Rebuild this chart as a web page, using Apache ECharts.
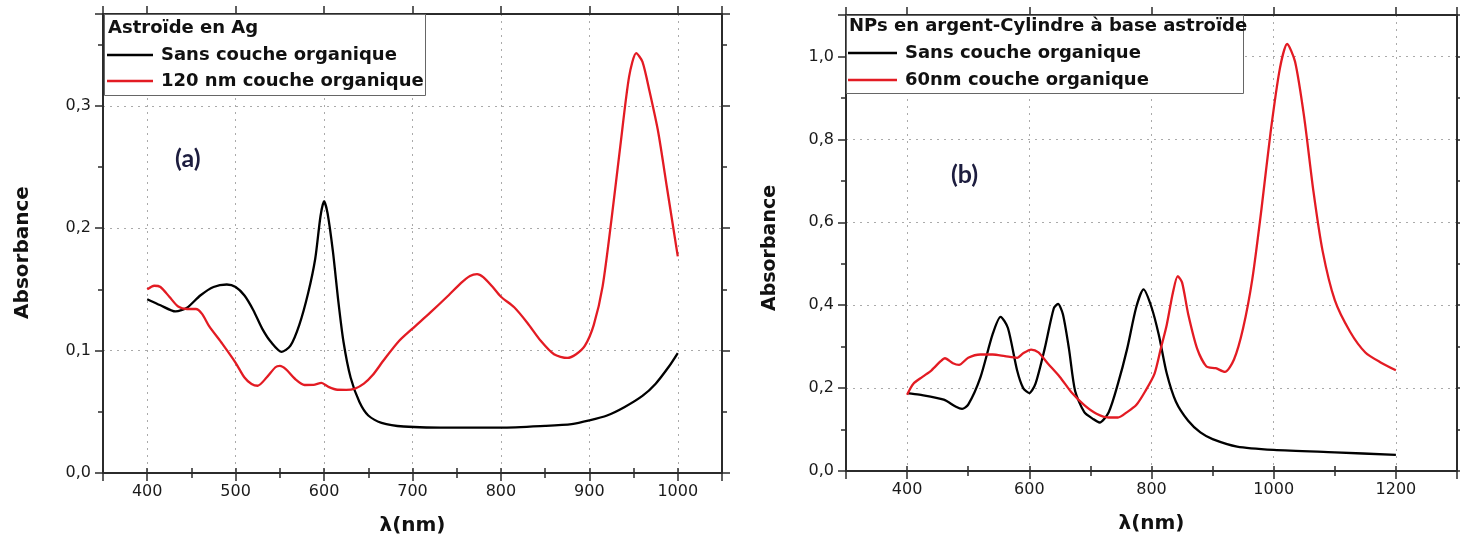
<!DOCTYPE html>
<html>
<head>
<meta charset="utf-8">
<script src="https://cdn.jsdelivr.net/npm/echarts@6/dist/echarts.min.js"></script>
<style>html,body{margin:0;padding:0;background:#fff}#c{width:1460px;height:548px}</style>
</head>
<body>
<div id="c"></div>
<script>
// ---------- Panel (a): Astroïde en Ag ----------
const aTitle = 'Astroïde en Ag';
const aNameBlack = 'Sans couche organique';
const aNameRed = '120 nm couche organique';
const aWaveBlack = [400,415,432,445,460,475,490,500,510,520,530,540,552,562,572,582,590,596,600,604,610,616,622,630,640,650,665,690,750,800,850,880,900,920,940,960,975,990,1000];
const aAbsBlack  = [0.142,0.137,0.132,0.135,0.145,0.152,0.154,0.152,0.145,0.133,0.118,0.107,0.099,0.104,0.121,0.147,0.175,0.210,0.222,0.212,0.181,0.141,0.107,0.078,0.058,0.047,0.041,0.038,0.037,0.037,0.0385,0.040,0.043,0.047,0.054,0.063,0.073,0.087,0.098];
const aWaveRed = [400,408,415,425,435,445,455,462,470,485,500,510,518,525,535,545,550,557,567,578,588,597,605,615,625,635,645,655,668,685,700,720,740,755,765,773,780,790,800,815,830,845,860,875,885,895,905,915,925,935,945,953,960,968,978,988,1000];
const aAbsRed  = [0.150,0.153,0.152,0.144,0.136,0.134,0.134,0.130,0.120,0.1055,0.090,0.078,0.0727,0.0713,0.078,0.0864,0.0875,0.0847,0.077,0.0719,0.072,0.0736,0.0704,0.068,0.0679,0.069,0.073,0.080,0.0927,0.108,0.118,0.131,0.1446,0.1554,0.161,0.1625,0.160,0.1525,0.144,0.1354,0.1226,0.108,0.097,0.094,0.097,0.104,0.121,0.1525,0.207,0.267,0.324,0.343,0.336,0.312,0.278,0.232,0.177];

// ---------- Panel (b): NPs en argent-Cylindre à base astroïde ----------
const bTitle = 'NPs en argent-Cylindre à base astroïde';
const bNameBlack = 'Sans couche organique';
const bNameRed = '60nm couche organique';
const bWaveBlack = [400,420,460,480,490,500,520,540,553,565,580,590,600,610,625,640,647,655,665,675,690,705,715,730,745,760,775,787,800,812,825,840,860,880,900,940,1000,1100,1200];
const bAbsBlack  = [0.188,0.184,0.172,0.155,0.150,0.160,0.226,0.330,0.372,0.345,0.243,0.200,0.188,0.210,0.294,0.392,0.403,0.378,0.294,0.193,0.142,0.125,0.117,0.142,0.210,0.294,0.395,0.438,0.395,0.328,0.235,0.167,0.121,0.093,0.077,0.059,0.051,0.045,0.039];
const bWaveRed = [400,410,425,440,455,462,475,485,500,520,540,560,580,590,603,615,630,650,670,690,710,730,745,760,775,790,805,815,825,835,843,850,860,875,890,905,920,935,950,965,980,995,1010,1022,1035,1050,1065,1080,1100,1125,1150,1175,1200];
const bAbsRed  = [0.184,0.210,0.227,0.243,0.265,0.272,0.260,0.256,0.273,0.281,0.281,0.277,0.273,0.284,0.293,0.286,0.260,0.227,0.188,0.159,0.138,0.129,0.129,0.142,0.159,0.193,0.235,0.294,0.353,0.430,0.470,0.455,0.379,0.294,0.252,0.248,0.239,0.269,0.345,0.463,0.632,0.818,0.970,1.030,0.987,0.852,0.675,0.531,0.412,0.336,0.286,0.262,0.243];

// tick settings
const aX = {min:350, max:1050, major:100, minor:50};
const aY = {min:0, max:0.375, major:0.1, minor:0.05};
const bX = {min:300, max:1300, major:200, minor:100};
const bY = {min:0, max:1.1, major:0.2, minor:0.1};

const BLACK = '#000000';
const RED = '#e31b23';
const AXIS = '#2b2b2b';
const BOLD = 'DejaVu Sans';

function zip(xs, ys){ return xs.map((x,i)=>[x, ys[i]]); }
function isMult(v, step){ const r = v/step; return Math.abs(r-Math.round(r)) < 1e-6; }

function xAxes(grid, s, nameGap){
  const base = {type:'value', gridIndex:grid, min:s.min, max:s.max};
  return [
    Object.assign({}, base, {position:'bottom', minInterval:s.major, maxInterval:s.major, splitNumber:7,
      axisLine:{show:true, onZero:false, lineStyle:{color:AXIS, width:2}},
      axisTick:{show:true, length:8, lineStyle:{color:AXIS, width:1.5}},
      axisLabel:{margin:11, color:'#1a1a1a', fontFamily:'DejaVu Sans', fontSize:16,
        formatter:v=> isMult(v, s.major) ? String(v) : ''},
      splitLine:{show:true, lineStyle:{color:'#aaaaaa', width:1, type:[2,5]}},
      name:'λ(nm)', nameLocation:'middle', nameGap:nameGap,
      nameTextStyle:{fontFamily:BOLD, fontWeight:'bold', fontSize:20, color:'#111'}}),
    Object.assign({}, base, {position:'bottom', interval:s.minor,
      axisLine:{show:false}, axisTick:{show:true, length:5, lineStyle:{color:AXIS, width:1.5}},
      axisLabel:{show:false}, splitLine:{show:false}}),
    Object.assign({}, base, {position:'top', minInterval:s.major, maxInterval:s.major, splitNumber:7,
      axisLine:{show:true, onZero:false, lineStyle:{color:AXIS, width:2}},
      axisTick:{show:true, length:8, lineStyle:{color:AXIS, width:1.5}},
      axisLabel:{show:false}, splitLine:{show:false}}),
    Object.assign({}, base, {position:'top', interval:s.minor,
      axisLine:{show:false}, axisTick:{show:true, length:5, lineStyle:{color:AXIS, width:1.5}},
      axisLabel:{show:false}, splitLine:{show:false}})
  ];
}
function yAxes(grid, s, nameGap, nameSize, namePad){
  const base = {type:'value', gridIndex:grid, min:s.min, max:s.max};
  return [
    Object.assign({}, base, {position:'left', interval:s.major,
      axisLine:{show:true, onZero:false, lineStyle:{color:AXIS, width:2}},
      axisTick:{show:true, length:8, lineStyle:{color:AXIS, width:1.5}},
      axisLabel:{margin:12, color:'#1a1a1a', fontFamily:'DejaVu Sans', fontSize:16,
        formatter:v=> isMult(v, s.major) ? v.toFixed(1).replace('.', ',') : ''},
      splitLine:{show:true, lineStyle:{color:'#aaaaaa', width:1, type:[2,5]}},
      name:'Absorbance', nameLocation:'middle', nameGap:nameGap,
      nameTextStyle:{fontFamily:BOLD, fontWeight:'bold', fontSize:nameSize, color:'#111', padding:[0,namePad,0,0]}}),
    Object.assign({}, base, {position:'left', interval:s.minor,
      axisLine:{show:false}, axisTick:{show:true, length:5, lineStyle:{color:AXIS, width:1.5}},
      axisLabel:{show:false}, splitLine:{show:false}}),
    Object.assign({}, base, {position:'right', interval:s.major,
      axisLine:{show:true, onZero:false, lineStyle:{color:AXIS, width:2}},
      axisTick:{show:true, length:8, lineStyle:{color:AXIS, width:1.5}},
      axisLabel:{show:false}, splitLine:{show:false}}),
    Object.assign({}, base, {position:'right', interval:s.minor,
      axisLine:{show:false}, axisTick:{show:true, length:5, lineStyle:{color:AXIS, width:1.5}},
      axisLabel:{show:false}, splitLine:{show:false}})
  ];
}

function lineSeries(name, xi, yi, data, color){
  return {type:'line', name:name, xAxisIndex:xi, yAxisIndex:yi, data:data,
    smooth:0.25, symbol:'none', showSymbol:false, animation:false,
    lineStyle:{color:color, width:2.3}, itemStyle:{color:color}, z:2};
}

const legendText = {fontFamily:BOLD, fontWeight:'bold', fontSize:18, color:'#111', lineHeight:22, padding:[0,0,0,3]};

const option = {
  backgroundColor:'#ffffff',
  animation:false,
  grid:[
    {left:103, top:14, width:619, height:459, containLabel:false},
    {left:846, top:15, width:611, height:456, containLabel:false}
  ],
  xAxis: xAxes(0, aX, 43).concat(xAxes(1, bX, 43)),
  yAxis: yAxes(0, aY, 70, 20, 18).concat(yAxes(1, bY, 66, 19, 10)),
  title:[
    {text:aTitle, left:108, top:19, padding:0, z:8,
      textStyle:{fontFamily:BOLD, fontWeight:'bold', fontSize:18, color:'#111'}},
    {text:bTitle, left:849, top:17, padding:0, z:8,
      textStyle:{fontFamily:BOLD, fontWeight:'bold', fontSize:18, color:'#111'}}
  ],
  legend:[
    {data:[aNameBlack, aNameRed], orient:'vertical', left:107, top:44, padding:0,
      itemWidth:46, itemHeight:14, itemGap:4, icon:'path://M0,0 L46,0 L46,2.6 L0,2.6 Z',
      textStyle:legendText, z:8, selectedMode:false},
    {data:[bNameBlack, bNameRed], orient:'vertical', left:848, top:42, padding:0,
      itemWidth:49, itemHeight:14, itemGap:5, icon:'path://M0,0 L49,0 L49,2.6 L0,2.6 Z',
      textStyle:legendText, z:8, selectedMode:false}
  ],
  graphic:[
    {type:'rect', left:104, top:14, z:5, shape:{width:321, height:81},
      style:{fill:'#ffffff', stroke:'#666', lineWidth:1}},
    {type:'rect', left:846, top:15, z:5, shape:{width:397, height:78},
      style:{fill:'#ffffff', stroke:'#666', lineWidth:1}},
    {type:'text', left:175, top:146, z:6,
      style:{text:'(a)', fontFamily:'Lato', fontWeight:'bold', fontSize:25, fill:'#1d1d3f'}},
    {type:'text', left:951, top:162, z:6,
      style:{text:'(b)', fontFamily:'Lato', fontWeight:'bold', fontSize:25, fill:'#1d1d3f'}}
  ],
  series:[
    lineSeries(aNameBlack, 0, 0, zip(aWaveBlack, aAbsBlack), BLACK),
    lineSeries(aNameRed, 0, 0, zip(aWaveRed, aAbsRed), RED),
    lineSeries(bNameBlack, 4, 4, zip(bWaveBlack, bAbsBlack), BLACK),
    lineSeries(bNameRed, 4, 4, zip(bWaveRed, bAbsRed), RED)
  ]
};

const chart = echarts.init(document.getElementById('c'), null, {renderer:'canvas', width:1460, height:548});
chart.setOption(option);
</script>
</body>
</html>
